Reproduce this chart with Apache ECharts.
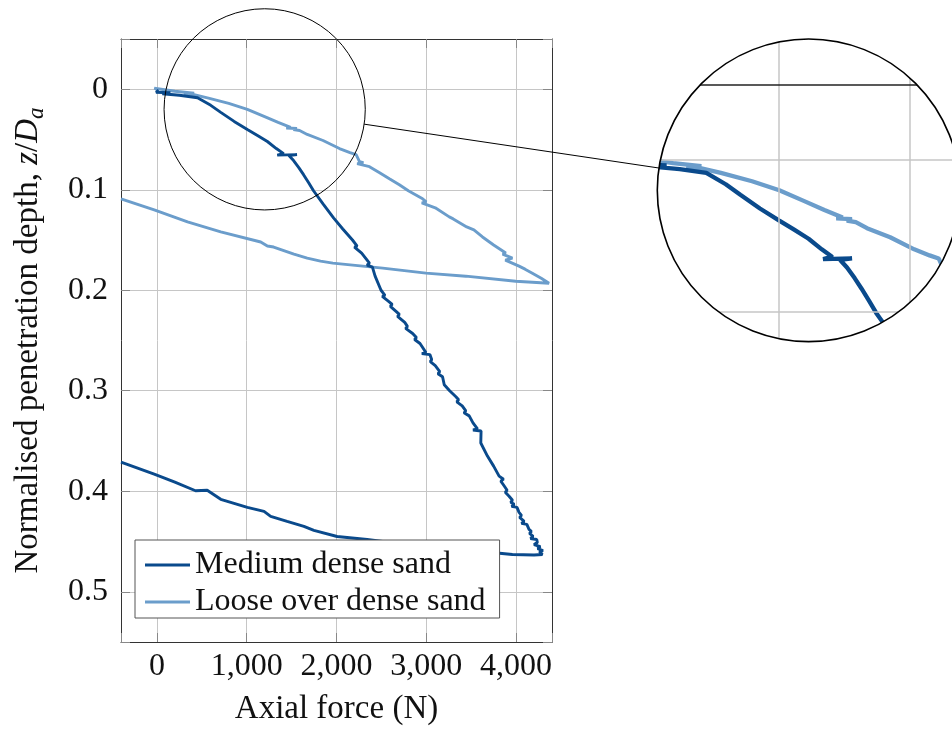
<!DOCTYPE html>
<html><head><meta charset="utf-8">
<script src="https://cdn.jsdelivr.net/npm/echarts@6/dist/echarts.min.js"></script>
<style>html,body{margin:0;padding:0;background:#fff}#c{width:952px;height:731px}</style>
</head><body><div id="c"></div>
<script>
// ---------------- data ----------------
const seriesNames = ['Medium dense sand', 'Loose over dense sand'];
// [axial force (N), normalised depth z/Da]
const mediumDense = [
  [20,0.001],[-10,0.003],[150,0.0035],[60,0.0045],[250,0.006],[452,0.0085],[600,0.016],[711,0.023],
  [860,0.032],[1007,0.040],[1120,0.046],[1230,0.052],[1330,0.059],[1411,0.064],[1340,0.0655],
  [1560,0.065],[1470,0.066],[1522,0.071],[1580,0.078],[1633,0.085],[1690,0.093],[1744,0.101],
  [1850,0.114],[1967,0.128],[2070,0.139],[2178,0.150],[2230,0.156],[2200,0.157],[2280,0.163],
  [2367,0.173],[2340,0.175],[2400,0.177],[2430,0.186],[2496,0.200],[2540,0.205],[2510,0.206],
  [2580,0.211],[2620,0.214],[2600,0.216],[2663,0.221],[2700,0.224],[2680,0.226],[2760,0.232],
  [2790,0.236],[2770,0.238],[2848,0.243],[2890,0.247],[2870,0.249],[2930,0.253],[2996,0.262],
  [2950,0.263],[3040,0.264],[3060,0.269],[3045,0.271],[3100,0.275],[3150,0.281],[3130,0.283],
  [3181,0.286],[3200,0.294],[3260,0.300],[3330,0.306],[3360,0.309],[3340,0.311],[3400,0.315],
  [3440,0.320],[3420,0.322],[3478,0.325],[3520,0.332],[3570,0.338],[3520,0.339],[3610,0.340],
  [3607,0.352],[3681,0.365],[3750,0.375],[3811,0.385],[3860,0.388],[3830,0.390],[3870,0.395],
  [3900,0.399],[3880,0.401],[3922,0.405],[3960,0.409],[3940,0.411],[3980,0.413],[3950,0.415],
  [4010,0.416],[4033,0.421],[4060,0.424],[4040,0.426],[4090,0.430],[4060,0.432],[4120,0.433],
  [4144,0.438],[4170,0.440],[4150,0.442],[4190,0.445],[4160,0.447],[4230,0.448],[4237,0.451],
  [4200,0.453],[4270,0.455],[4240,0.457],[4300,0.459],[4260,0.460],[4293,0.463],
  [4200,0.4635],[3959,0.463],[3500,0.459],[3000,0.455],[2600,0.451],[2341,0.448],[2007,0.445],
  [1748,0.439],[1637,0.435],[1450,0.430],[1267,0.425],[1193,0.420],[1007,0.416],[711,0.408],
  [560,0.399],[430,0.3995],[415,0.399],[200,0.391],[-30,0.383],[-400,0.371]
];
const looseOverDense = [
  [0,0.000],[-30,-0.001],[200,0.002],[415,0.004],[300,0.0045],[415,0.0055],[563,0.0085],
  [800,0.014],[1007,0.020],[1193,0.027],[1350,0.033],[1489,0.038],[1440,0.0385],[1560,0.039],
  [1520,0.040],[1589,0.041],[1674,0.045],[1850,0.051],[2033,0.059],[2150,0.063],[2219,0.065],
  [2256,0.072],[2300,0.073],[2230,0.074],[2367,0.077],[2480,0.083],[2589,0.089],[2700,0.095],
  [2800,0.101],[2959,0.109],[3000,0.112],[2950,0.113],[3100,0.118],[3256,0.127],[3300,0.129],
  [3450,0.137],[3530,0.140],[3626,0.147],[3750,0.155],[3885,0.163],[3850,0.164],[3959,0.168],
  [3880,0.170],[4033,0.176],[4100,0.179],[4181,0.183],[4280,0.188],[4367,0.193],
  [3996,0.191],[3441,0.186],[2996,0.183],[2515,0.178],[1959,0.173],[1822,0.171],[1674,0.168],
  [1526,0.164],[1300,0.157],[1230,0.156],[1156,0.152],[711,0.142],[341,0.132],[-30,0.120],[-400,0.109]
];
const xTicks = [0, 1000, 2000, 3000, 4000];
const yTicks = [0, 0.1, 0.2, 0.3, 0.4, 0.5];

// ---------------- layout / style ----------------
const DARK = '#0a4a8c', LIGHT = '#6b9dcb';
const FONT = 'Liberation Serif';
const xMin = -400, xMax = 4400, yMin = -0.05, yMax = 0.55;
const grid0 = {left: 121, top: 39, width: 431, height: 604};
const kx = grid0.width / (xMax - xMin), ky = grid0.height / (yMax - yMin);
const spy = {x: 1200, y: 0.02, r: 100.6, mag: 1.504, cx: 808.6, cy: 190.3};
const R = spy.r * spy.mag;
const insetGrid = {left: spy.cx - R, top: spy.cy - R, width: 2 * R, height: 2 * R};
const ix = [spy.x - spy.r / kx, spy.x + spy.r / kx];
const iy = [spy.y - spy.r / ky, spy.y + spy.r / ky];

const near = (v, arr, eps) => arr.some(t => Math.abs(t - v) < eps);
const fmtX = v => near(v, xTicks, 1e-6) ? String(Math.round(v)).replace(/\B(?=(\d{3})+(?!\d))/g, ',') : '';
const fmtY = v => near(v, yTicks, 1e-9) ? String(Math.round(v * 10) / 10) : '';

const gridLine = {show: true, lineStyle: {color: '#c6c6c6', width: 1}};
const tick = {show: true, inside: true, length: 9, lineStyle: {color: '#888', width: 1}};
const axLine = {show: true, onZero: false, lineStyle: {color: '#333', width: 1}};

const chart = echarts.init(document.getElementById('c'), null, {renderer: 'canvas'});
chart.setOption({
  animation: false,
  backgroundColor: '#fff',
  textStyle: {fontFamily: FONT},
  grid: [
    Object.assign({containLabel: false}, grid0),
    Object.assign({containLabel: false}, insetGrid)
  ],
  xAxis: [
    {type: 'value', gridIndex: 0, min: xMin, max: xMax, splitNumber: 5, position: 'bottom',
     axisLine: axLine, axisTick: tick, splitLine: gridLine,
     axisLabel: {formatter: fmtX, color: '#111', fontSize: 32, fontFamily: FONT, margin: 9},
     name: 'Axial force (N)', nameLocation: 'middle', nameGap: 51,
     nameTextStyle: {fontSize: 33, color: '#111', fontFamily: FONT}},
    {type: 'value', gridIndex: 0, min: xMin, max: xMax, splitNumber: 5, position: 'top',
     axisLine: axLine, axisTick: tick, splitLine: {show: false}, axisLabel: {show: false}},
    {type: 'value', gridIndex: 1, min: ix[0], max: ix[1], show: false}
  ],
  yAxis: [
    {type: 'value', gridIndex: 0, min: yMin, max: yMax, splitNumber: 6, inverse: true, position: 'left',
     axisLine: axLine, axisTick: tick, splitLine: gridLine,
     axisLabel: {formatter: fmtY, color: '#111', fontSize: 32, fontFamily: FONT, margin: 13},
     name: 'Normalised penetration depth, {it|z}{n|/}{it|D}{sub|a}',
     nameLocation: 'middle', nameRotate: 90, nameGap: 73,
     nameTextStyle: {fontSize: 33, color: '#111', fontFamily: FONT,
       rich: {
         n: {fontSize: 33, fontFamily: FONT, color: '#111'},
         it: {fontSize: 33, fontFamily: FONT, fontStyle: 'italic', color: '#111'},
         sub: {fontSize: 23, fontFamily: FONT, fontStyle: 'italic', color: '#111', padding: [16, 0, 0, 0]}
       }}},
    {type: 'value', gridIndex: 0, min: yMin, max: yMax, splitNumber: 6, inverse: true, position: 'right',
     axisLine: axLine, axisTick: tick, splitLine: {show: false}, axisLabel: {show: false}},
    {type: 'value', gridIndex: 1, min: iy[0], max: iy[1], inverse: true, show: false}
  ],
  legend: {
    data: seriesNames, orient: 'vertical', left: 135, top: 540,
    backgroundColor: '#fff', borderColor: '#555', borderWidth: 1, borderRadius: 0,
    padding: [9, 14, 0, 10], itemGap: 5, itemWidth: 45, itemHeight: 3, icon: 'rect',
    textStyle: {fontSize: 32, fontFamily: FONT, color: '#111', lineHeight: 31}
  },
  series: [
    {name: seriesNames[0], type: 'line', xAxisIndex: 0, yAxisIndex: 0, data: mediumDense,
     showSymbol: false, symbol: 'none', z: 3,
     lineStyle: {color: DARK, width: 2.9}, itemStyle: {color: DARK}},
    {name: seriesNames[1], type: 'line', xAxisIndex: 0, yAxisIndex: 0, data: looseOverDense,
     showSymbol: false, symbol: 'none', z: 2,
     lineStyle: {color: LIGHT, width: 2.9}, itemStyle: {color: LIGHT}},
    // inset: grid lines and frame of the magnified region
    {name: 'inset-grid', type: 'line', xAxisIndex: 2, yAxisIndex: 2, data: [[spy.x, spy.y]],
     showSymbol: false, symbol: 'none', lineStyle: {opacity: 0}, z: 1, silent: true,
     markLine: {silent: true, symbol: 'none', label: {show: false}, animation: false,
       lineStyle: {color: '#c6c6c6', width: 1.5, type: 'solid'},
       data: xTicks.map(v => ({xAxis: v})).concat(yTicks.map(v => ({yAxis: v})))
         .concat([{yAxis: yMin, lineStyle: {color: '#222', width: 1.6, type: 'solid'}}])}},
    {name: 'inset-md', type: 'line', xAxisIndex: 2, yAxisIndex: 2, data: mediumDense,
     showSymbol: false, symbol: 'none', z: 3, lineStyle: {color: DARK, width: 4.3}},
    {name: 'inset-lod', type: 'line', xAxisIndex: 2, yAxisIndex: 2, data: looseOverDense,
     showSymbol: false, symbol: 'none', z: 2, lineStyle: {color: LIGHT, width: 4.3}}
  ]
});

// spy decorations: small circle, magnified circle (masking outside), connector
const p = chart.convertToPixel({xAxisIndex: 0, yAxisIndex: 0}, [spy.x, spy.y]);
const dx = spy.cx - p[0], dy = spy.cy - p[1], d = Math.hypot(dx, dy);
const ux = dx / d, uy = dy / d;
chart.setOption({
  graphic: [
    {type: 'ring', z: 100, silent: true, shape: {cx: spy.cx, cy: spy.cy, r0: R, r: R * 1.6}, style: {fill: '#fff'}},
    {type: 'circle', z: 101, silent: true, shape: {cx: spy.cx, cy: spy.cy, r: R}, style: {fill: null, stroke: '#000', lineWidth: 1.6}},
    {type: 'circle', z: 101, silent: true, shape: {cx: p[0], cy: p[1], r: spy.r}, style: {fill: null, stroke: '#000', lineWidth: 1}},
    {type: 'line', z: 101, silent: true,
     shape: {x1: p[0] + ux * spy.r, y1: p[1] + uy * spy.r, x2: spy.cx - ux * R, y2: spy.cy - uy * R},
     style: {stroke: '#000', lineWidth: 1}}
  ]
});
</script>
</body></html>
